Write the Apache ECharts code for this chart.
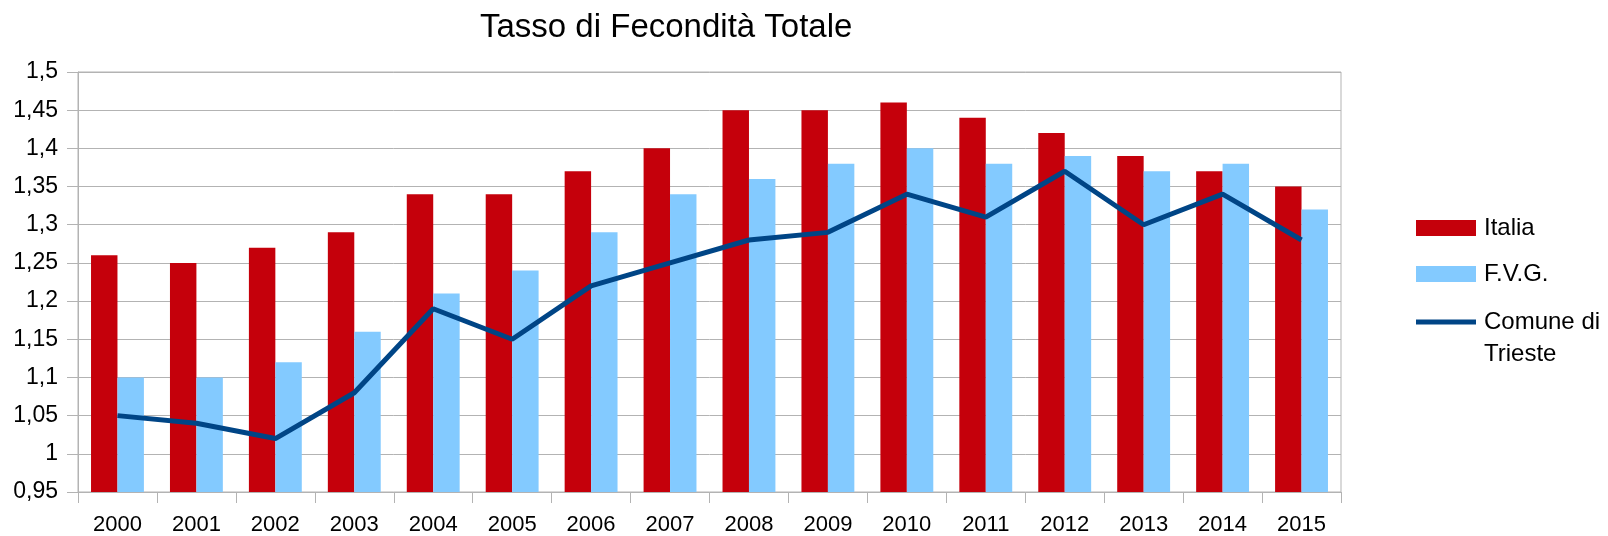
<!DOCTYPE html>
<html>
<head>
<meta charset="utf-8">
<script src="https://cdn.jsdelivr.net/npm/echarts@6/dist/echarts.min.js"></script>
<style>
  html, body { margin: 0; padding: 0; background: #fff; }
  #chart { width: 1608px; height: 536px; }
</style>
</head>
<body>
<div id="chart"></div>
<script>
var anni = ['2000', '2001', '2002', '2003', '2004', '2005', '2006', '2007',
    '2008', '2009', '2010', '2011', '2012', '2013', '2014', '2015'];
var italia = [1.26, 1.25, 1.27, 1.29, 1.34, 1.34, 1.37, 1.40, 1.45, 1.45, 1.46, 1.44, 1.42, 1.39, 1.37, 1.35];
var fvg = [1.10, 1.10, 1.12, 1.16, 1.21, 1.24, 1.29, 1.34, 1.36, 1.38, 1.40, 1.38, 1.39, 1.37, 1.38, 1.32];
var trieste = [1.05, 1.04, 1.02, 1.08, 1.19, 1.15, 1.22, 1.25, 1.28, 1.29, 1.34, 1.31, 1.37, 1.30, 1.34, 1.28];

var font = 'Liberation Sans, Arial, sans-serif';
var grigio = '#b3b3b3';

var myChart = echarts.init(document.getElementById('chart'));

myChart.setOption({
    animation: false,
    title: {
        text: 'Tasso di Fecondità Totale',
        left: 475,
        top: 6,
        textStyle: { fontFamily: font, fontSize: 33, fontWeight: 'normal', color: '#000' }
    },
    legend: [
        {
            orient: 'vertical',
            left: 1411,
            top: 211,
            itemWidth: 60,
            itemHeight: 16,
            itemGap: 22,
            icon: 'rect',
            data: ['Italia', 'F.V.G.'],
            formatter: function (name) {
                return '{t|' + name + '}';
            },
            textStyle: {
                rich: { t: { fontFamily: font, fontSize: 24, lineHeight: 28, color: '#000', padding: [0, 0, 0, 3] } }
            }
        },
        {
            // testo su due righe: la riga vuota sopra tiene l'icona all'altezza della prima riga
            orient: 'vertical',
            left: 1411,
            top: 273,
            itemWidth: 60,
            itemHeight: 5,
            icon: 'rect',
            data: ['Comune di Trieste'],
            formatter: function (name) {
                return '{t| }\n{t|Comune di}\n{t|Trieste}';
            },
            textStyle: {
                rich: { t: { fontFamily: font, fontSize: 24, lineHeight: 32, color: '#000', padding: [0, 0, 0, 3] } }
            }
        }
    ],
    grid: {
        left: 78,
        right: 267,
        top: 72,
        bottom: 44,
        show: true,
        borderColor: grigio,
        borderWidth: 1
    },
    xAxis: {
        type: 'category',
        data: anni,
        axisLine: { lineStyle: { color: grigio, width: 1 } },
        axisTick: { show: true, length: 11, lineStyle: { color: grigio } },
        axisLabel: { fontFamily: font, fontSize: 22, color: '#000', margin: 22 }
    },
    yAxis: {
        type: 'value',
        min: 0.95,
        max: 1.5,
        interval: 0.05,
        axisLine: { show: true, lineStyle: { color: grigio, width: 1 } },
        axisTick: { show: true, length: 11, lineStyle: { color: grigio } },
        splitLine: { lineStyle: { color: grigio, width: 1 } },
        axisLabel: {
            fontFamily: font, fontSize: 23, color: '#000', margin: 20,
            formatter: function (v) {
                return String(Math.round(v * 100) / 100).replace('.', ',');
            }
        }
    },
    series: [
        {
            name: 'Italia',
            type: 'bar',
            data: italia,
            barGap: '0%',
            barCategoryGap: '33%',
            itemStyle: { color: '#c5000b' }
        },
        {
            name: 'F.V.G.',
            type: 'bar',
            data: fvg,
            barGap: '0%',
            barCategoryGap: '33%',
            itemStyle: { color: '#83caff' }
        },
        {
            name: 'Comune di Trieste',
            type: 'line',
            data: trieste,
            symbol: 'none',
            itemStyle: { color: '#004586' },
            lineStyle: { color: '#004586', width: 5 }
        }
    ]
});
</script>
</body>
</html>
